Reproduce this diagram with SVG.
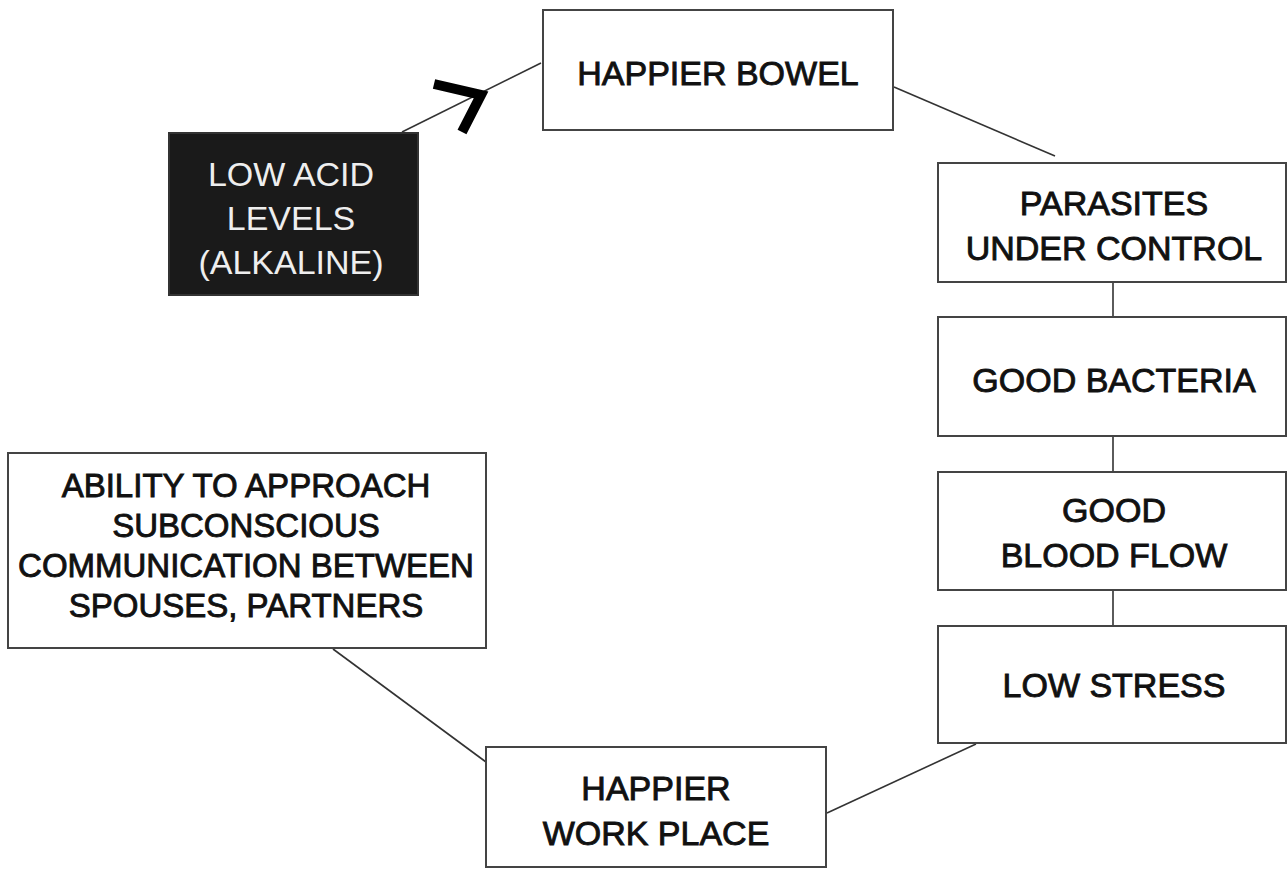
<svg xmlns="http://www.w3.org/2000/svg" width="1288" height="869" viewBox="0 0 1288 869">
<style>
.box{fill:#fff;stroke:#444;stroke-width:2}
.dark{fill:#1a1a1a;stroke:#333;stroke-width:2}
.t{font-family:"Liberation Sans",Arial,sans-serif;font-size:34px;text-anchor:middle;fill:#111;stroke:#111;stroke-width:0.9}
.tw{font-family:"Liberation Sans",Arial,sans-serif;font-size:34px;text-anchor:middle;fill:#eee}
.c{stroke:#333;stroke-width:1.6;fill:none}
</style>
<g id="connectors">
<line class="c" x1="402" y1="132" x2="541" y2="63"/>
<polyline points="434,84 481,95 462,132" fill="none" stroke="#000" stroke-width="10" stroke-linejoin="miter"/>
<line class="c" x1="894" y1="87" x2="1055" y2="156"/>
<line class="c" x1="1113" y1="283" x2="1113" y2="317"/>
<line class="c" x1="1113" y1="437" x2="1113" y2="472"/>
<line class="c" x1="1113" y1="591" x2="1113" y2="626"/>
<line class="c" x1="976" y1="744" x2="827" y2="813"/>
<line class="c" x1="333" y1="649" x2="486" y2="762"/>
</g>
<g id="happier-bowel">
<rect class="box" x="543" y="10" width="350" height="120"/>
<text class="t" x="718" y="85">HAPPIER BOWEL</text>
</g>
<g id="low-acid">
<rect class="dark" x="169" y="133" width="249" height="162"/>
<text class="tw" x="291" y="186">LOW ACID</text>
<text class="tw" x="291" y="230">LEVELS</text>
<text class="tw" x="291" y="274">(ALKALINE)</text>
</g>
<g id="parasites">
<rect class="box" x="938" y="163" width="348" height="119"/>
<text class="t" x="1114" y="215">PARASITES</text>
<text class="t" x="1114" y="260">UNDER CONTROL</text>
</g>
<g id="good-bacteria">
<rect class="box" x="938" y="317" width="348" height="119"/>
<text class="t" x="1114" y="392">GOOD BACTERIA</text>
</g>
<g id="good-blood-flow">
<rect class="box" x="938" y="472" width="348" height="118"/>
<text class="t" x="1114" y="522">GOOD</text>
<text class="t" x="1114" y="567">BLOOD FLOW</text>
</g>
<g id="low-stress">
<rect class="box" x="938" y="626" width="348" height="117"/>
<text class="t" x="1114" y="697">LOW STRESS</text>
</g>
<g id="happier-work-place">
<rect class="box" x="486" y="747" width="340" height="120"/>
<text class="t" x="656" y="800">HAPPIER</text>
<text class="t" x="656" y="845">WORK PLACE</text>
</g>
<g id="ability">
<rect class="box" x="8" y="453" width="478" height="195"/>
<text class="t" x="246" y="497" style="font-size:33px">ABILITY TO APPROACH</text>
<text class="t" x="246" y="537" style="font-size:33px">SUBCONSCIOUS</text>
<text class="t" x="246" y="577" style="font-size:33px">COMMUNICATION BETWEEN</text>
<text class="t" x="246" y="617" style="font-size:33px">SPOUSES, PARTNERS</text>
</g>
</svg>
